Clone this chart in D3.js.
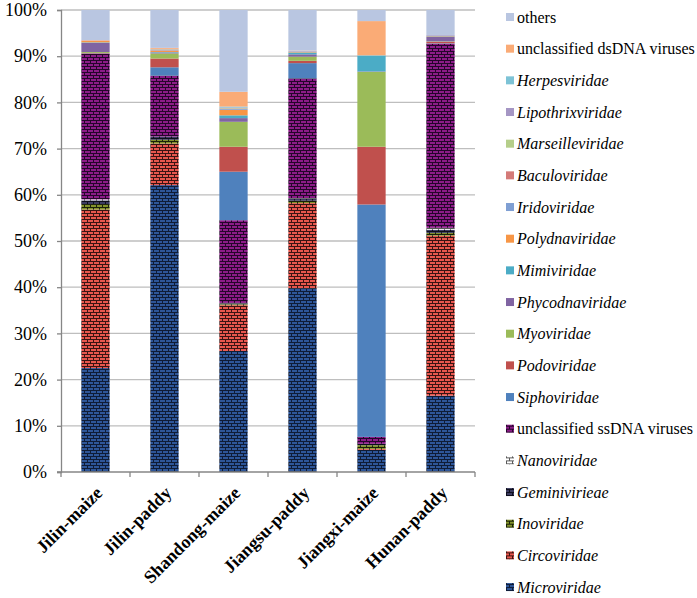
<!DOCTYPE html>
<html><head><meta charset="utf-8">
<script src="https://cdn.jsdelivr.net/npm/d3@7"></script>
<style>body{margin:0;background:#fff} svg text{font-family:"Liberation Serif","DejaVu Serif","Times New Roman",serif;}</style>
</head><body><svg id="c" width="697" height="598"></svg>
<script>
// ---------- data ----------
const categories = ["Jilin-maize","Jilin-paddy","Shandong-maize","Jiangsu-paddy","Jiangxi-maize","Hunan-paddy"];
const yTickLabels = ["0%","10%","20%","30%","40%","50%","60%","70%","80%","90%","100%"];
// series listed bottom (first) to top (last)
const seriesNames = ["Microviridae","Circoviridae","Inoviridae","Geminivirieae","Nanoviridae",
  "unclassified ssDNA viruses","Siphoviridae","Podoviridae","Myoviridae","Phycodnaviridae",
  "Mimiviridae","Polydnaviridae","Iridoviridae","Baculoviridae","Marseilleviridae",
  "Lipothrixviridae","Herpesviridae","unclassified dsDNA viruses","others"];
const microviridae      = [22.5, 62.1, 26.2, 39.8,  4.8, 16.5];
const circoviridae      = [34.3,  9.0,  9.9, 18.4,  0.2, 34.6];
const inoviridae        = [ 1.2,  0.8,  0.2,  0.5,  0.8,  0.6];
const geminivirieae     = [ 0.8,  0.7,  0.2,  0.5,  0.3,  0.7];
const nanoviridae       = [ 0.2,  0.0,  0.1,  0.1,  0.0,  0.4];
const unclassifiedSs    = [31.5, 13.2, 17.9, 25.9,  1.5, 39.8];
const siphoviridae      = [ 0.1,  1.8, 10.5,  3.3, 50.3,  0.1];
const podoviridae       = [ 0.1,  1.9,  5.4,  0.5, 12.5,  0.3];
const myoviridae        = [ 0.2,  1.1,  5.4,  0.9, 16.2,  0.1];
const phycodnaviridae   = [ 2.0,  0.2,  0.8,  0.5,  0.1,  1.0];
const mimiviridae       = [ 0.1,  0.1,  0.6,  0.4,  3.4,  0.1];
const polydnaviridae    = [ 0.3,  0.3,  1.2,  0.1,  0.0,  0.1];
const iridoviridae      = [ 0.0,  0.1,  0.2,  0.1,  0.0,  0.1];
const baculoviridae     = [ 0.0,  0.1,  0.1,  0.0,  0.0,  0.0];
const marseilleviridae  = [ 0.0,  0.1,  0.1,  0.0,  0.0,  0.0];
const lipothrixviridae  = [ 0.1,  0.1,  0.1,  0.1,  0.0,  0.1];
const herpesviridae     = [ 0.0,  0.0,  0.2,  0.0,  0.1,  0.0];
const unclassifiedDs    = [ 0.1,  0.2,  3.2,  0.1,  7.4,  0.0];
const others            = [ 6.5,  8.2, 17.7,  8.8,  2.4,  5.4];
const seriesValues = [microviridae,circoviridae,inoviridae,geminivirieae,nanoviridae,unclassifiedSs,
  siphoviridae,podoviridae,myoviridae,phycodnaviridae,mimiviridae,polydnaviridae,iridoviridae,
  baculoviridae,marseilleviridae,lipothrixviridae,herpesviridae,unclassifiedDs,others];
const plainNames = ["unclassified ssDNA viruses","unclassified dsDNA viruses","others"];

// ---------- styles ----------
const solid = {
  "Siphoviridae":"#4F81BD","Podoviridae":"#C0504D","Myoviridae":"#9BBB59","Phycodnaviridae":"#8064A2",
  "Mimiviridae":"#4BACC6","Polydnaviridae":"#F79646","Iridoviridae":"#7F9FD3","Baculoviridae":"#D47A78",
  "Marseilleviridae":"#B5CE8A","Lipothrixviridae":"#A596C4","Herpesviridae":"#7DC3D6",
  "unclassified dsDNA viruses":"#FAAB76","others":"#B9C6E1"
};
const bricks = {
  "Microviridae":["#0F1C36","#2E5699"],
  "Circoviridae":["#3A1412","#E8574E"],
  "Inoviridae":["#1A2008","#83932C"],
  "Geminivirieae":["#0E0E1C","#3C3C62"],
  "Nanoviridae":["#5A5A5A","#FFFFFF"],
  "unclassified ssDNA viruses":["#24062A","#8C1C88"]
};
const patIds = {};

const svg = d3.select("#c");
const defs = svg.append("defs");
Object.entries(bricks).forEach(([name,[mortar,brick]],i)=>{
  const p = defs.append("pattern").attr("id","pat"+i).attr("patternUnits","userSpaceOnUse")
    .attr("width",6).attr("height",6);
  p.append("rect").attr("width",6).attr("height",6).attr("fill",mortar);
  p.append("rect").attr("x",1).attr("y",1).attr("width",5).attr("height",2).attr("fill",brick);
  p.append("rect").attr("x",0).attr("y",4).attr("width",3).attr("height",2).attr("fill",brick);
  p.append("rect").attr("x",4).attr("y",4).attr("width",2).attr("height",2).attr("fill",brick);
  patIds[name] = "pat"+i;
});
function fillFor(name){ return solid[name] || `url(#${patIds[name]})`; }

// ---------- layout ----------
const mLeft=61, mRight=475, mTop=10, mBottom=472;
const x = d3.scaleBand().domain(categories).range([mLeft,mRight]).padding(0);
const y = d3.scaleLinear().domain([0,1]).range([mBottom,mTop]);
const serif = '"Liberation Serif","DejaVu Serif","Times New Roman",serif';

// gridlines
svg.append("g").selectAll("line").data(d3.range(1,11).map(i=>i/10)).join("line")
  .attr("x1",mLeft).attr("x2",mRight).attr("y1",d=>y(d)).attr("y2",d=>y(d))
  .attr("stroke","#BEBEBE").attr("stroke-width",1.3);

// stacked data
const rows = categories.map((c,ci)=>{
  const r={cat:c}; seriesNames.forEach((s,si)=>r[s]=seriesValues[si][ci]); return r;});
const stacked = d3.stack().keys(seriesNames).offset(d3.stackOffsetExpand)(rows);
const bw = x.bandwidth()*0.41, boff = x.bandwidth()*0.295;
svg.append("g").selectAll("g").data(stacked).join("g")
  .attr("fill",d=>fillFor(d.key))
  .selectAll("rect").data(d=>d).join("rect")
  .attr("x",d=>x(d.data.cat)+boff).attr("width",bw)
  .attr("y",d=>y(d[1])).attr("height",d=>Math.max(0,y(d[0])-y(d[1])));

// y axis
const yAxis = d3.axisLeft(y).tickValues(d3.range(0,11).map(i=>i/10))
  .tickFormat((d,i)=>yTickLabels[i]).tickSize(4).tickPadding(10);
const ga = svg.append("g").attr("transform",`translate(${mLeft},0)`).call(yAxis);
ga.attr("font-family",null).attr("font-size",null);
ga.select(".domain").attr("stroke","#868686").attr("stroke-width",1.3);
ga.selectAll(".tick line").attr("stroke","#868686").attr("stroke-width",1.3);
ga.selectAll("text").style("font-family",serif).style("font-size","18px").attr("fill","#000");

// x axis
svg.append("line").attr("x1",mLeft-4).attr("x2",mRight).attr("y1",mBottom).attr("y2",mBottom)
  .attr("stroke","#868686").attr("stroke-width",1.3);
const bounds = categories.map(c=>x(c)).concat([mRight]);
svg.append("g").selectAll("line").data(bounds).join("line")
  .attr("x1",d=>d).attr("x2",d=>d).attr("y1",mBottom).attr("y2",mBottom+5)
  .attr("stroke","#868686").attr("stroke-width",1.3);
svg.append("g").selectAll("text").data(categories).join("text")
  .attr("transform",c=>`translate(${x(c)+x.bandwidth()/2+8},${mBottom+22}) rotate(-45)`)
  .attr("text-anchor","end").style("font-family",serif).style("font-weight","bold")
  .style("font-size","18px").attr("fill","#000").text(c=>c);

// legend (top = last series)
const legendOrder = seriesNames.slice().reverse();
const lg = svg.append("g").selectAll("g").data(legendOrder).join("g")
  .attr("transform",(d,i)=>`translate(506,${17+i*31.67})`);
lg.append("rect").attr("x",0).attr("y",-4).attr("width",8).attr("height",8).attr("fill",d=>fillFor(d));
lg.append("text").attr("x",11).attr("y",0).attr("dy","0.35em")
  .style("font-family",serif).style("font-size","16px").attr("fill","#000")
  .style("font-style",d=>plainNames.includes(d)?"normal":"italic").text(d=>d);
</script></body></html>
